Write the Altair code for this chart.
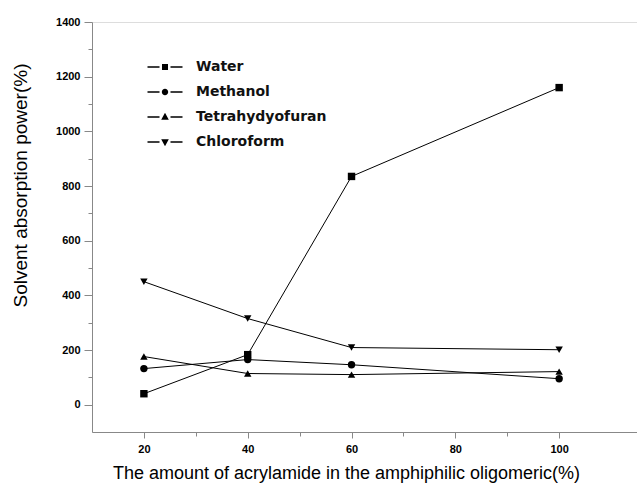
import altair as alt
import pandas as pd

x_vals = [20, 40, 60, 100]
series = ["Water", "Methanol", "Tetrahydyofuran", "Chloroform"]
water = [40, 183, 835, 1160]
methanol = [132, 165, 146, 95]
thf = [176, 114, 110, 121]
chloroform = [450, 315, 209, 201]

x_major = [20, 40, 60, 80, 100]
x_minor = [30, 50, 70, 90]
y_major = [0, 200, 400, 600, 800, 1000, 1200, 1400]
y_minor = [100, 300, 500, 700, 900, 1100, 1300]

rows = []
for name, vals in zip(series, [water, methanol, thf, chloroform]):
    for xv, yv in zip(x_vals, vals):
        rows.append({"x": xv, "y": yv, "series": name, "series_leg": name})
df = pd.DataFrame(rows)

FONT = "DejaVu Sans"
xs = alt.Scale(domain=[10, 115], nice=False, zero=False)
ys = alt.Scale(domain=[-100, 1400], nice=False, zero=False)

shapes_data = ["square", "circle", "triangle-up", "triangle-down"]
dash = "M-1.75,-0.08H-0.55V0.08H-1.75ZM0.55,-0.08H1.75V0.08H0.55Z"
shapes_legend = [
    dash + "M-0.3,-0.3H0.3V0.3H-0.3Z",
    dash + "M-0.32,0A0.32,0.32 0 1,0 0.32,0A0.32,0.32 0 1,0 -0.32,0Z",
    dash + "M0,-0.42L0.38,0.28H-0.38Z",
    dash + "M0,0.42L0.38,-0.28H-0.38Z",
]

base = alt.Chart(df)

lines = base.mark_line(color="black", strokeWidth=1).encode(
    x=alt.X("x:Q", scale=xs, axis=alt.Axis(values=x_major, title="The amount of acrylamide in the amphiphilic oligomeric(%)",
                                             grid=False, format="d",
                                             tickSize=6, labelFontWeight="bold", labelFontSize=11, labelPadding=5,
                                             titleFontSize=18, titleFontWeight="normal", titlePadding=10,
                                             titleX=254)),
    y=alt.Y("y:Q", scale=ys, axis=alt.Axis(values=y_major, title="Solvent absorption power(%)",
                                             grid=False, format="d",
                                             tickSize=8, labelFontWeight="bold", labelFontSize=11, labelPadding=4,
                                             titleFontSize=19, titleFontWeight="normal",
                                             titleX=-62, titleY=163)),
    detail="series:N",
)

points = base.mark_point(filled=True, color="black", opacity=1, size=55).encode(
    x=alt.X("x:Q", scale=xs, axis=None),
    y=alt.Y("y:Q", scale=ys, axis=None),
    shape=alt.Shape("series:N", sort=series, scale=alt.Scale(domain=series, range=shapes_data), legend=None),
)

legend_layer = base.mark_point(filled=True, color="black", opacity=0).encode(
    x=alt.X("x:Q", scale=xs, axis=alt.Axis(values=x_minor, labels=False, title=None, domain=False, grid=False,
                                             tickSize=4, orient="bottom")),
    y=alt.Y("y:Q", scale=ys, axis=alt.Axis(values=y_minor, labels=False, title=None, domain=False, grid=False,
                                             tickSize=4, orient="left")),
    shape=alt.Shape("series_leg:N", sort=series, scale=alt.Scale(domain=series, range=shapes_legend),
                    legend=alt.Legend(title=None, orient="none", legendX=63, legendY=35,
                                      symbolSize=400, symbolFillColor="black", symbolStrokeColor="black",
                                      symbolStrokeWidth=0, symbolOpacity=1, labelOffset=21,
                                      labelFont=FONT, labelFontSize=14, labelFontWeight="bold",
                                      labelColor="#111", rowPadding=8, padding=0)),
)

chart = alt.layer(lines, points, legend_layer).resolve_scale(shape="independent").resolve_axis(
    x="independent", y="independent"
).properties(
    width=545, height=410,
    autosize=alt.AutoSizeParams(type="none"),
    padding={"left": 92, "top": 22, "right": 0, "bottom": 57},
).configure_view(stroke=None).configure_axis(
    grid=False, domainColor="black", tickColor="black", labelColor="#111", titleColor="#111",
    labelFont=FONT, titleFont=FONT, domainWidth=1.5, tickWidth=1.5,
).configure(background="white")

chart.save("out.html", embed_options={"renderer": "svg", "actions": False})
